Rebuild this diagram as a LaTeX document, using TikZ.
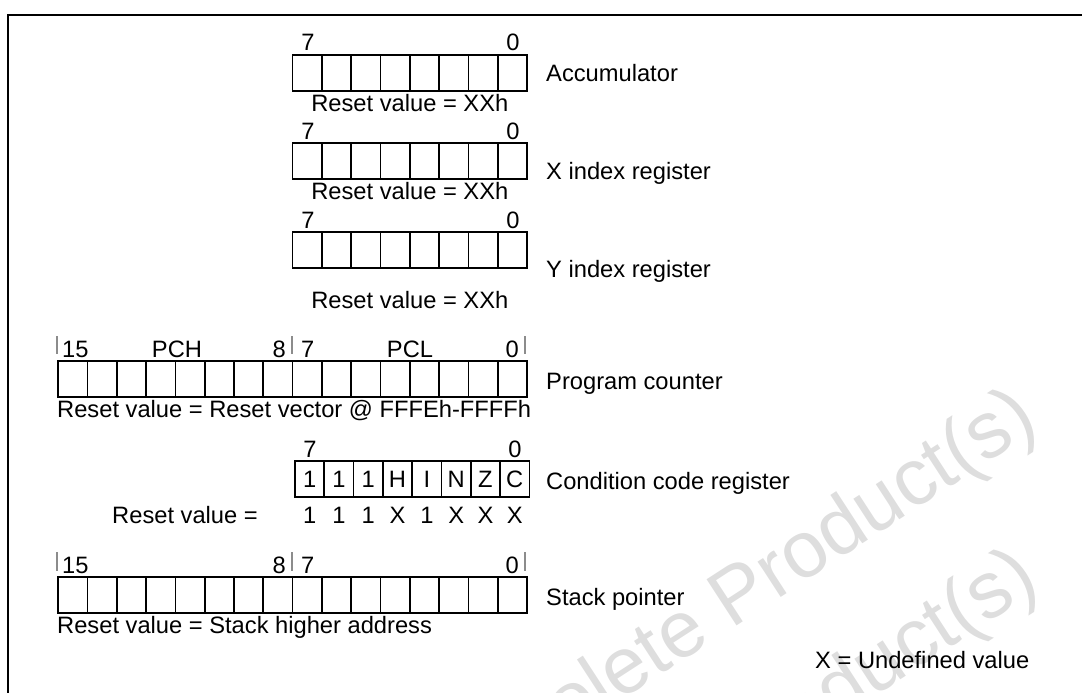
\documentclass[tikz,border=0pt]{standalone}
\usepackage{fontspec}
\setmainfont{Liberation Sans}
\newcommand\regfont{\fontsize{23.7}{28}\selectfont}
\newcommand\drawreg[5]{%
  \node[draw, cellline, minimum width=#4*29.3pt, minimum height=36pt, inner sep=0pt, outer sep=0pt, anchor=north west] (#1) at (#2,#3) {};
  \foreach \k in {1,...,#5} \draw[cellline] ({#2+\k*29.3},#3) -- ++(0,36);
}
\begin{document}
\begin{tikzpicture}[x=1pt,y=-1pt,
  cellline/.style={line width=1.7pt},
  txt/.style={font=\regfont, inner sep=0pt, anchor=base},
  txtw/.style={font=\regfont, inner sep=0pt, anchor=base west},
  txte/.style={font=\regfont, inner sep=0pt, anchor=base east},
  bitbar/.style={draw=black!45, line width=1.2pt},
  wmark/.style={font=\fontsize{80}{90}\selectfont, text=black!13, rotate=33, anchor=base east, inner sep=0pt}]
\useasboundingbox (0,0) rectangle (1082,693);
\clip (0,0) rectangle (1082,693);
% watermark
\node[wmark] (wm1) at (1041,428) {Obsolete Product(s)};
\node[wmark] (wm2) at (1042,588) {Obsolete Product(s)};
% frame
\draw[line width=1.3pt] (8,700) -- (8,15) -- (1090,15);
% registers
\drawreg{acc}{292.6}{55}{8}{7}
\drawreg{xr}{292.6}{143}{8}{7}
\drawreg{yr}{292.6}{232}{8}{7}
\drawreg{pc}{58.2}{361}{16}{15}
\drawreg{ccr}{295}{461}{8}{7}
\drawreg{sp}{58.2}{577}{16}{15}
% accumulator
\node[txt] (a7) at (308,51) {7};
\node[txt] (a0) at (513,51) {0};
\node[txtw] (al) at (546,81.5) {Accumulator};
\node[txt] (ar) at (409.8,111) {Reset value = XXh};
% X
\node[txt] (x7) at (308,139) {7};
\node[txt] (x0) at (513,139) {0};
\node[txtw] (xl) at (546,179.5) {X index register};
\node[txt] (xrv) at (409.8,199) {Reset value = XXh};
% Y
\node[txt] (y7) at (308,228) {7};
\node[txt] (y0) at (513,228) {0};
\node[txtw] (yl) at (546,277) {Y index register};
\node[txt] (yrv) at (409.8,308) {Reset value = XXh};
% PC
\node[txtw] (p15) at (62,357) {15};
\node[txt] (pch) at (177,357) {PCH};
\node[txte] (p8) at (286,357) {8};
\node[txtw] (p7) at (301,357) {7};
\node[txt] (pcl) at (410,357) {PCL};
\node[txte] (p0) at (519,357) {0};
\draw[bitbar] (57,336) -- (57,354);
\draw[bitbar] (292,336) -- (292,354);
\draw[bitbar] (525,336) -- (525,354);
\node[txtw] (pl) at (546,389) {Program counter};
\node[txtw] (prv) at (57,417) {Reset value = Reset vector @ FFFEh-FFFFh};
% CCR
\node[txt] (c7) at (310,457) {7};
\node[txt] (c0) at (515,457) {0};
\foreach \t [count=\i] in {1,1,1,H,I,N,Z,C}
  \node[txt] (cb\i) at ({295+(\i-0.5)*29.3},487.5) {\t};
\node[txtw] (cl) at (546,489) {Condition code register};
\node[txte] (crv) at (258,523) {Reset value =};
\foreach \t [count=\i] in {1,1,1,X,1,X,X,X}
  \node[txt] (cr\i) at ({295+(\i-0.5)*29.3},523) {\t};
% SP
\node[txtw] (s15) at (62,573) {15};
\node[txte] (s8) at (286,573) {8};
\node[txtw] (s7) at (301,573) {7};
\node[txte] (s0) at (519,573) {0};
\draw[bitbar] (57,552) -- (57,571);
\draw[bitbar] (292,552) -- (292,571);
\draw[bitbar] (525,552) -- (525,571);
\node[txtw] (sl) at (546,605) {Stack pointer};
\node[txtw] (srv) at (57,633) {Reset value = Stack higher address};
% legend
\node[txtw] (leg) at (815,668) {X = Undefined value};
\end{tikzpicture}
\end{document}
